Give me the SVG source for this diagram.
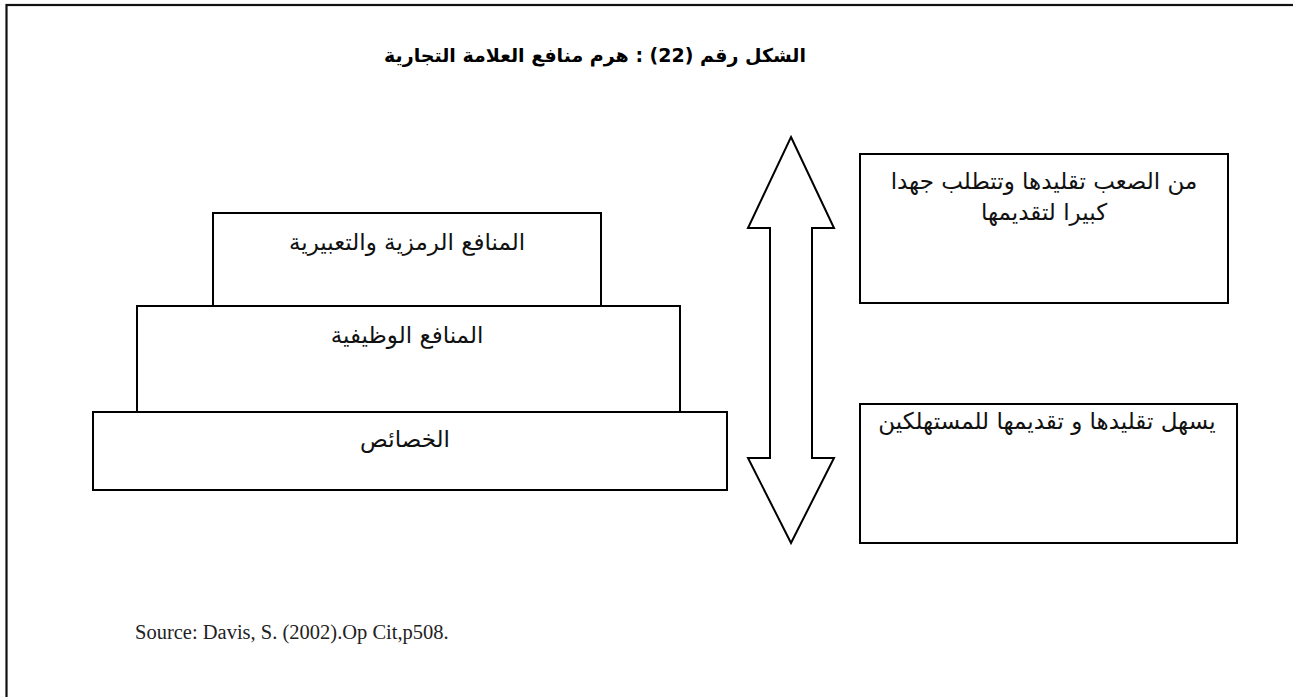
<svg xmlns="http://www.w3.org/2000/svg" width="1293" height="697" viewBox="0 0 1293 697">
  <style>
    .box { fill: #ffffff; stroke: #000000; stroke-width: 2; }
    .frame { fill: none; stroke: #111111; stroke-width: 2.2; }
    .ar { font-family: "DejaVu Sans", "Noto Sans", sans-serif; font-size: 23px; fill: #111111; text-anchor: middle; direction: rtl; unicode-bidi: embed; }
    .title { font-family: "DejaVu Sans", "Noto Sans", sans-serif; font-size: 19px; font-weight: bold; fill: #000000; text-anchor: middle; direction: rtl; unicode-bidi: embed; }
    .src { font-family: "Liberation Serif", "Times New Roman", serif; font-size: 20.5px; fill: #222222; }
  </style>
  <rect x="0" y="0" width="1293" height="697" fill="#ffffff"/>
  <!-- page frame, runs past the right and bottom edges -->
  <rect class="frame" x="6.5" y="5" width="1400" height="800"/>

  <text class="title" x="595" y="62">الشكل رقم (22) : هرم منافع العلامة التجارية</text>

  <!-- pyramid levels -->
  <g id="level-symbolic">
    <rect class="box" x="213" y="213" width="388" height="93"/>
    <text class="ar" x="407" y="250">المنافع الرمزية والتعبيرية</text>
  </g>
  <g id="level-functional">
    <rect class="box" x="137" y="306" width="543" height="106"/>
    <text class="ar" x="407" y="343">المنافع الوظيفية</text>
  </g>
  <g id="level-attributes">
    <rect class="box" x="93" y="412" width="634" height="78"/>
    <text class="ar" x="405" y="447">الخصائص</text>
  </g>

  <!-- double-headed block arrow -->
  <g id="connectors">
    <path class="box" d="M791,137 L834,228 L812,228 L812,458 L834,458 L791,543 L748,458 L770,458 L770,228 L748,228 Z"/>
  </g>

  <g id="note-hard">
    <rect class="box" x="860" y="154" width="368" height="149"/>
    <text class="ar" x="1044" y="189">من الصعب تقليدها وتتطلب جهدا</text>
    <text class="ar" x="1044" y="220">كبيرا لتقديمها</text>
  </g>
  <g id="note-easy">
    <rect class="box" x="860" y="404" width="377" height="139"/>
    <text class="ar" x="1047" y="429">يسهل تقليدها و تقديمها للمستهلكين</text>
  </g>

  <text class="src" x="135" y="639">Source: Davis, S. (2002).Op Cit,p508.</text>
</svg>
